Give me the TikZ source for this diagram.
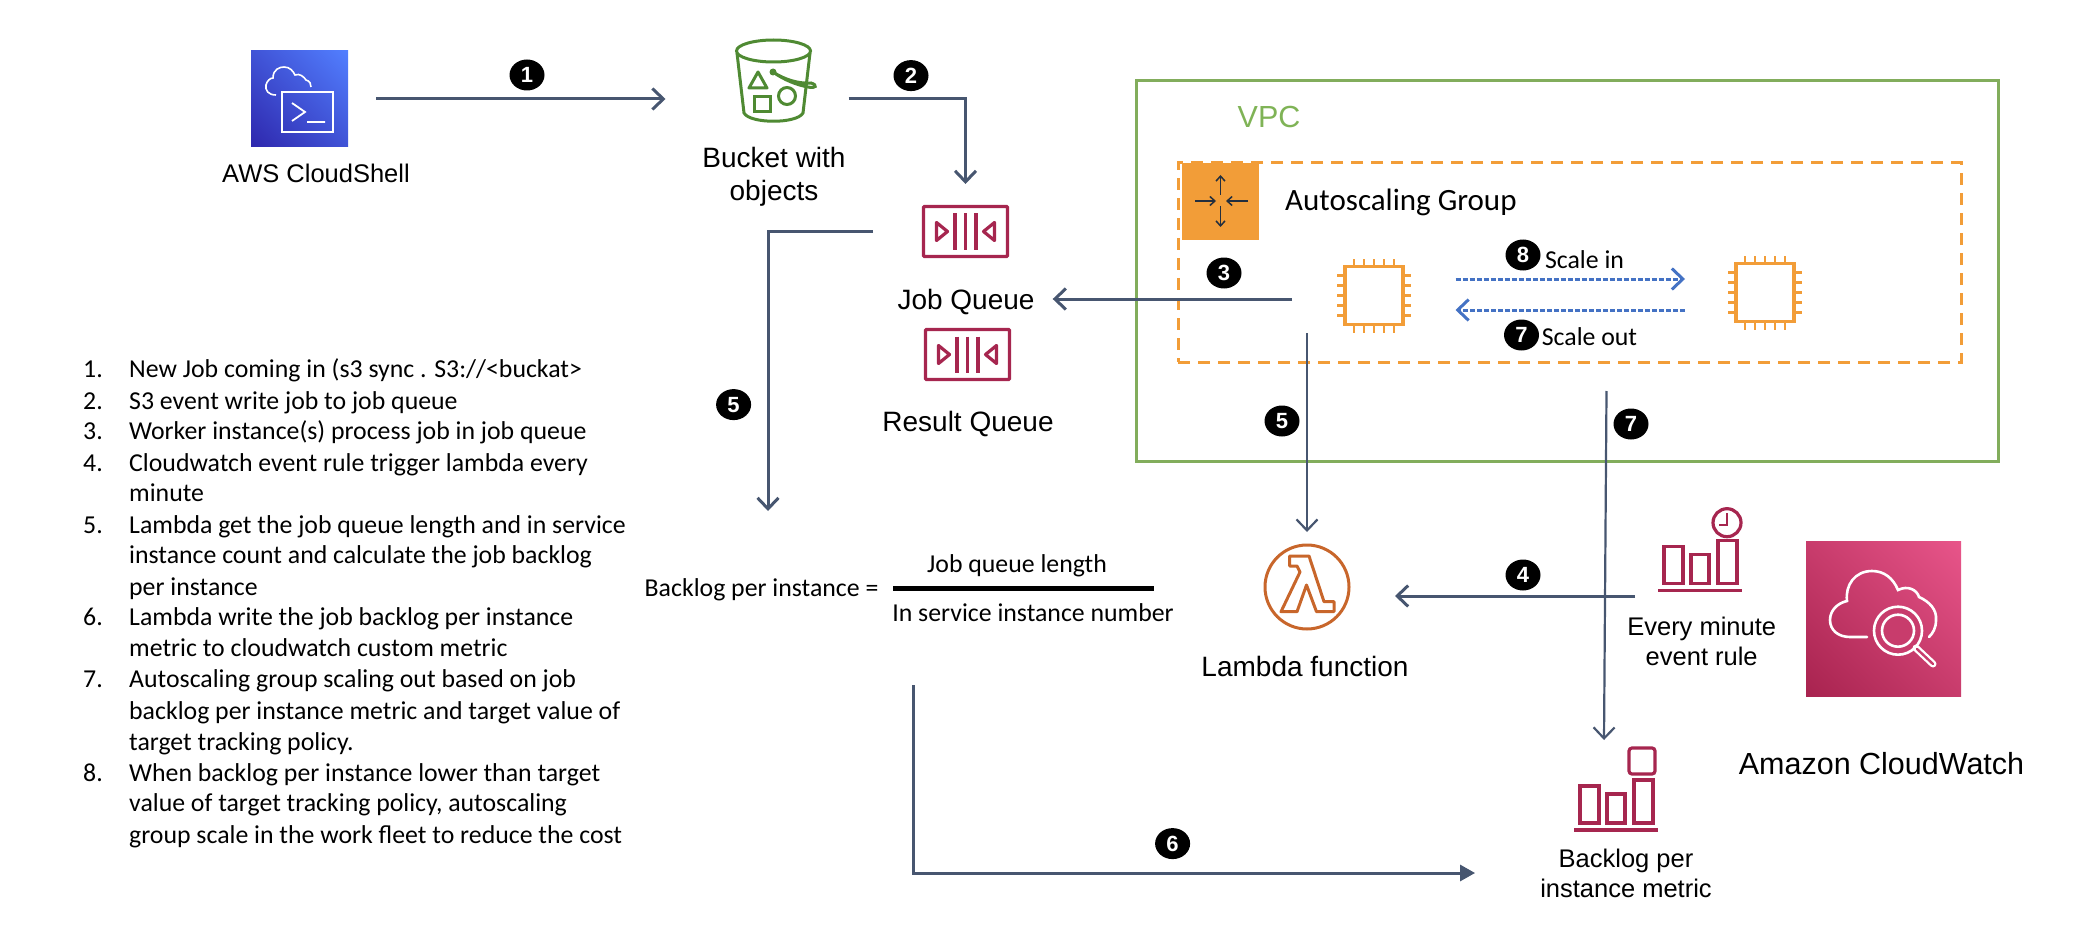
\documentclass[tikz,border=0pt]{standalone}
\usepackage{fontspec}
\setmainfont{Liberation Sans}
\newfontfamily\calibrifont{Carlito}
\usetikzlibrary{arrows.meta,shapes.geometric,shadings}
\definecolor{flowline}{HTML}{475670}
\definecolor{vpcgreen}{HTML}{82AD5C}
\definecolor{vpctext}{HTML}{7FB356}
\definecolor{asgorange}{HTML}{F29D38}
\definecolor{bucketgreen}{HTML}{4F8A33}
\definecolor{queuered}{HTML}{A6264F}
\definecolor{lambdaorange}{HTML}{C8662B}
\definecolor{scaleblue}{HTML}{4472C4}
\definecolor{iconink}{HTML}{232F3E}
\definecolor{shelldark}{HTML}{2E27AD}
\definecolor{shellmid}{HTML}{4053D6}
\definecolor{shelllight}{HTML}{527FFF}
\definecolor{cwdark}{HTML}{A8234F}
\definecolor{cwmid}{HTML}{C83C6C}
\definecolor{cwlight}{HTML}{E8558A}

\begin{document}
\begin{tikzpicture}[
  x=1pt,y=-1pt,
  >={Straight Barb[length=11pt,width=21pt]},
  flow/.style={->, draw=flowline, line width=3},
  flowthin/.style={->, draw=flowline, line width=2.2},
  scaleflow/.style={->, draw=scaleblue, line width=3, dash pattern=on 5pt off 2pt},
  stepbadge/.style={ellipse, fill=black, text=white, inner sep=0, minimum width=35, minimum height=31, font=\fontsize{22}{24}\selectfont\bfseries},
  iconbox/.style={inner sep=0, outer sep=0},
  bigtext/.style={inner sep=0, align=center, font=\fontsize{28}{33}\selectfont},
  midtext/.style={inner sep=0, align=center, font=\fontsize{25.5}{30}\selectfont},
  caltext/.style={inner sep=0, font=\calibrifont\fontsize{25.8}{30}\selectfont},
  queueicon/.pic={
    \draw[queuered, line width=3.2, rounded corners=1] (-42,-25) rectangle (42,25);
    \foreach \x in {-10.5,0,10.5} { \draw[queuered, line width=3.4] (\x,-18) -- (\x,18); }
    \draw[queuered, line width=3.2, line join=round] (-29,-9) -- (-29,9) -- (-18,0) -- cycle;
    \draw[queuered, line width=3.2, line join=round] (29,-9) -- (29,9) -- (18,0) -- cycle;
  },
  chipicon/.pic={
    \draw[asgorange, line width=3.4] (-29,-29) rectangle (29,29);
    \foreach \k in {-20,-10,0,10,20} {
      \draw[asgorange, line width=2.8] (\k,-29) -- (\k,-37) (\k,29) -- (\k,37);
      \draw[asgorange, line width=2.8] (-29,\k) -- (-37,\k) (29,\k) -- (37,\k);
    }
  },
  barsicon/.pic={
    \draw[queuered, line width=3.4] (0,0) -- (84,0);
    \draw[queuered, line width=3.2] (6,-7) rectangle (25,-44);
    \draw[queuered, line width=3.2] (33,-7) rectangle (51,-36);
    \draw[queuered, line width=3.2] (60,-7) rectangle (79,-50);
  },
]
\useasboundingbox (0,0) rectangle (2080,944);
% --- containers ---
\node[iconbox, draw=vpcgreen, line width=3, minimum width=862, minimum height=380] (vpc) at (1567.5,271) {};
\node[iconbox, draw=asgorange, line width=3, dash pattern=on 12pt off 8pt, minimum width=783, minimum height=199] (asg) at (1569.5,262.5) {};
\node[bigtext, text=vpctext, font=\fontsize{30.5}{33}\selectfont] (vpclabel) at (1269,117) {VPC};
\node[iconbox, fill=asgorange, minimum width=77, minimum height=77] (asgicon) at (1220.5,201.5) {};
\foreach \xa/\ya/\xb/\yb in {1220.5/195/1220.5/175, 1220.5/206/1220.5/227, 1195/201/1216/201, 1248/201/1226/201} {
  \draw[->, >={Straight Barb[length=5pt,width=9pt]}, iconink, line width=1.5] (\xa,\ya) -- (\xb,\yb);
}
\node[caltext, font=\calibrifont\fontsize{31}{35}\selectfont, anchor=west] (asglabel) at (1285,202) {Autoscaling Group};
% --- cloudshell ---
\node[iconbox, minimum width=97, minimum height=96, lower left=shelldark, upper right=shelllight, upper left=shellmid, lower right=shellmid] (shell) at (299.5,99) {};
\draw[white, line width=1.6] (276,95) .. controls (268,95) and (265,90) .. (266,85) .. controls (267,81) and (270,78) .. (273,78) .. controls (273,69) and (280,67) .. (284,67) .. controls (290,67) and (293,71) .. (295,75) .. controls (300,73) and (304,77) .. (306,80) .. controls (310,81) and (311,84) .. (311,87);
\draw[white, line width=1.6] (282,92) rectangle (333,132);
\draw[white, line width=1.8] (292,103) -- (305,112) -- (292,121) (307,122) -- (325,122);
\node[midtext] (shelllabel) at (316,173) {AWS CloudShell};
% --- bucket ---
\node[iconbox, minimum width=74, minimum height=84] (bucket) at (773.5,81) {};
\begin{scope}[draw=bucketgreen, line width=3]
  \draw (773.5,51) ellipse [x radius=37, y radius=11];
  \draw (737,53) -- (744,113) .. controls (750,124) and (797,124) .. (803,113) -- (810,53);
  \draw[line join=round] (758,72) -- (749,88) -- (767,88) -- cycle;
  \draw (754,97) rectangle (770,112);
  \draw (787,96) circle [radius=8.5];
  \draw (773,72) .. controls (785,80) and (800,84) .. (811,83) .. controls (818,85) and (816,89) .. (808,87) .. controls (797,85) and (784,80) .. (773,72);
  \fill[bucketgreen] (773,72) circle [radius=3.5];
\end{scope}
\node[bigtext] (bucketlabel) at (774,177) {Bucket with\\objects};
% --- queues ---
\node[iconbox, minimum width=85, minimum height=51] (jobq) at (965.5,231.5) {};
\pic at (jobq) {queueicon};
\node[bigtext] (joblabel) at (966,302) {Job Queue};
\node[iconbox, minimum width=85, minimum height=51] (resultq) at (967.5,354.5) {};
\pic at (resultq) {queueicon};
\node[bigtext] (resultlabel) at (968,424) {Result Queue};
% --- worker instances ---
\node[iconbox, minimum width=74, minimum height=75] (chipa) at (1374,295.5) {};
\pic at (chipa) {chipicon};
\node[iconbox, minimum width=74, minimum height=75] (chipb) at (1765,292.5) {};
\pic at (chipb) {chipicon};
\node[caltext] (scaleinlabel) at (1584.5,260) {Scale in};
\node[caltext] (scaleoutlabel) at (1589.5,337) {Scale out};
% --- lambda ---
\node[iconbox, circle, draw=lambdaorange, line width=3, minimum size=84] (lambda) at (1307,587) {};
\draw[lambdaorange, line width=3, line join=round] (1289.5,556) -- (1309,556) -- (1324,601.7) -- (1334,601.7) -- (1334,611.7) -- (1316.5,611.7) -- (1306.5,585) -- (1297,611.7) -- (1281,611.7) -- (1300,572) -- (1297,566) -- (1289.5,566) -- cycle;
\node[bigtext] (lambdalabel) at (1305,666) {Lambda function};
% --- cloudwatch ---
\node[iconbox, minimum width=84, minimum height=84] (ruleicon) at (1700,549) {};
\pic at (1658,590.7) {barsicon};
\draw[queuered, line width=3.2] (1727,522.7) circle [radius=14];
\draw[queuered, line width=2.4] (1727,513) -- (1727,525) -- (1719,525);
\node[midtext] (rulelabel) at (1701.7,641) {Every minute\\event rule};
\node[iconbox, minimum width=155, minimum height=155, lower left=cwdark, upper right=cwlight, upper left=cwmid, lower right=cwmid] (cwsquare) at (1883.5,618.5) {};
\begin{scope}[draw=white, line width=2.6, line cap=round]
  \draw (1867,637) -- (1850,637) .. controls (1838,637) and (1830,630) .. (1830,620) .. controls (1830,610) and (1838,603) .. (1847,601) .. controls (1845,585) and (1855,571) .. (1872,571) .. controls (1884,571) and (1893,578) .. (1898,590) .. controls (1908,585) and (1917,590) .. (1919,597) .. controls (1930,602) and (1937,610) .. (1936,620) .. controls (1936,628) and (1933,633) .. (1929,637);
  \draw[fill=cwmid] (1898,630.7) circle [radius=24];
  \draw (1898,630.7) circle [radius=16];
  \draw[line width=7] (1916,648) -- (1933,664);
  \draw[cwmid, line width=2.4] (1917,649) -- (1933,664);
\end{scope}
\node[bigtext, font=\fontsize{30.5}{33}\selectfont] (cwlabel) at (1881.5,764) {Amazon CloudWatch};
\node[iconbox, minimum width=84, minimum height=84] (metricicon) at (1615.5,790) {};
\pic at (1574,830) {barsicon};
\draw[queuered, line width=3.2, rounded corners=3] (1629,748) rectangle (1655,774);
\node[midtext] (metriclabel) at (1626,873) {Backlog per\\instance metric};
% --- formula ---
\node[caltext, anchor=west] (formlabel) at (644.5,590) {Backlog per instance =};
\node[iconbox, fill=black, minimum width=261, minimum height=5] (formbar) at (1023.75,588) {};
\node[caltext] (formtop) at (1017,566) {Job queue length};
\node[caltext] (formbot) at (1033,613) {In service instance number};
% --- numbered list ---
\foreach \i/\ypos in {1/377,2/409,3/439,4/471,5/533,6/625,7/687,8/781} {
  \node[caltext, anchor=base west] (listnum\i) at (83,\ypos) {\i.};
}
\foreach \i/\ypos/\txt in {
  1/377/{New Job coming in (s3 sync . S3://<buckat>},
  2/409/{S3 event write job to job queue},
  3/439/{Worker instance(s) process job in job queue},
  4/471/{Cloudwatch event rule trigger lambda every},
  5/501/{minute},
  6/533/{Lambda get the job queue length and in service},
  7/563/{instance count and calculate the job backlog},
  8/595/{per instance},
  9/625/{Lambda write the job backlog per instance},
  10/656/{metric to cloudwatch custom metric},
  11/687/{Autoscaling group scaling out based on job},
  12/719/{backlog per instance metric and target value of},
  13/750/{target tracking policy.},
  14/781/{When backlog per instance lower than target},
  15/811/{value of target tracking policy, autoscaling},
  16/843/{group scale in the work fleet to reduce the cost}} {
  \node[caltext, anchor=base west] (listline\i) at (129,\ypos) {\txt};
}
% --- free ends of connectors ---
\coordinate (backlogtop) at (768,511);
\coordinate (scalefrom) at (1606.5,391);
\coordinate (metrictop) at (1604,740);
\coordinate (ruleout) at (1635,596);
\coordinate (sumdrop) at (913,685);
% --- connectors ---
\draw[flow, shorten <=28pt, shorten >=71pt] (shell.east) -- (shell.east -| bucket.west);
\draw[flow, shorten <=38pt, shorten >=22pt] (bucket.east |- shell.east) -| (jobq.north);
\draw[flow, shorten <=45pt, shorten >=18pt] ([yshift=3pt]chipa.west |- joblabel.east) -- ([yshift=3pt]joblabel.east);
\draw[flow, shorten <=50pt] (jobq.west) -| (backlogtop);
\draw[flowthin, shorten >=13pt] (lambda.north |- chipa.south) -- (lambda.north);
\draw[flowthin] (scalefrom) -- (metrictop);
\draw[flow, shorten >=46pt] (ruleout) -- (ruleout -| lambda.east);
\draw[flow, -{Triangle[length=15pt,width=16pt]}, shorten >=65pt] (sumdrop) |- (metriclabel.west);
\draw[scaleflow, shorten <=44.5pt, shorten >=43pt] ([yshift=16.5pt]chipa.east) -- ([yshift=16.5pt]chipa.east -| chipb.west);
\draw[scaleflow, shorten <=43pt, shorten >=44.5pt] ([yshift=-14.5pt]chipa.east -| chipb.west) -- ([yshift=-14.5pt]chipa.east);
% --- step badges ---
\node[stepbadge] (badge1) at (527,75) {1};
\node[stepbadge] (badge2) at (911,75.6) {2};
\node[stepbadge] (badge3) at (1224,273) {3};
\node[stepbadge] (badge4) at (1523,575) {4};
\node[stepbadge] (badge5a) at (733.6,404.6) {5};
\node[stepbadge] (badge5b) at (1282,421) {5};
\node[stepbadge] (badge6) at (1172.6,843.6) {6};
\node[stepbadge] (badge7a) at (1521.5,335) {7};
\node[stepbadge] (badge7b) at (1631,424) {7};
\node[stepbadge] (badge8) at (1523,255) {8};
\end{tikzpicture}
\end{document}
